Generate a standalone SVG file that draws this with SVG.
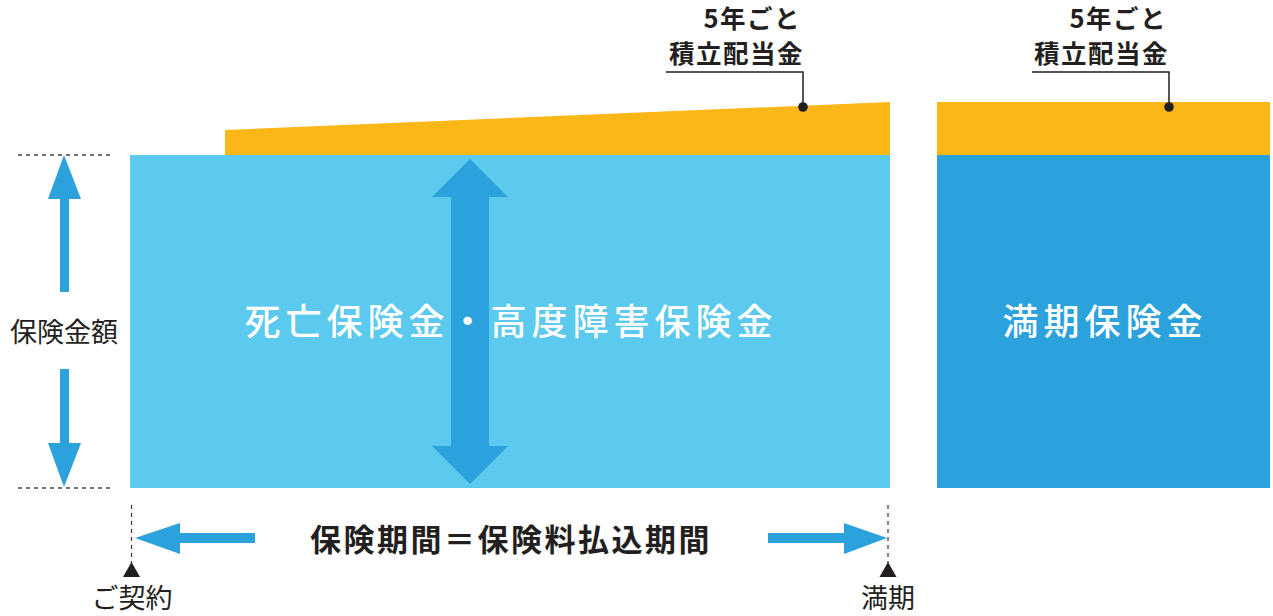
<svg xmlns="http://www.w3.org/2000/svg" width="1273" height="616" viewBox="0 0 1273 616">
<style>
text{font-family:"Noto Sans CJK JP","Noto Sans CJK SC",sans-serif;}
.lbl{fill:#231f20;font-size:27px;}
.dk{fill:#231f20;font-size:25.5px;font-weight:600;}
.main{fill:#ffffff;font-size:36px;font-weight:500;letter-spacing:5px;}
.dash{stroke:#444;stroke-width:1.3;stroke-dasharray:4 4;fill:none;}
.lead{stroke:#231f20;stroke-width:1.5;fill:none;}
.arr{fill:#2ca2dc;}
</style>
<rect width="1273" height="616" fill="#ffffff"/>
<g id="dividend-left">
<polygon points="225,130 890,102 890,156 225,156" fill="#fbb717"/>
</g>
<g id="dividend-right">
<rect x="937" y="102" width="333" height="54" fill="#fbb717"/>
</g>
<g id="death-benefit">
<rect x="130" y="155" width="760" height="333" fill="#5bcaee"/>
<polygon class="arr" points="470,159 508,197 489,197 489,446 508,446 470,484 432,446 451,446 451,197 432,197"/>
<text class="main" x="511" y="335" text-anchor="middle">死亡保険金・高度障害保険金</text>
</g>
<g id="maturity-benefit">
<rect x="937" y="155" width="333" height="333" fill="#2ca2dc"/>
<text class="main" x="1105" y="335" text-anchor="middle">満期保険金</text>
</g>
<g id="label-dividend-left">
<text class="dk" x="801" y="28" text-anchor="end" letter-spacing="1.5">5年ごと</text>
<text class="dk" x="804" y="63" text-anchor="end" letter-spacing="1.5">積立配当金</text>
</g>
<g id="label-dividend-right">
<text class="dk" x="1167" y="28" text-anchor="end" letter-spacing="1.5">5年ごと</text>
<text class="dk" x="1169" y="63" text-anchor="end" letter-spacing="1.5">積立配当金</text>
</g>
<g id="label-amount">
<text class="lbl" x="64" y="342" text-anchor="middle">保険金額</text>
</g>
<g id="label-period">
<text x="511" y="551" text-anchor="middle" font-size="31" font-weight="700" fill="#231f20" letter-spacing="2.5">保険期間＝保険料払込期間</text>
</g>
<g id="label-contract">
<text class="lbl" x="132" y="608" text-anchor="middle">ご契約</text>
</g>
<g id="label-maturity">
<text class="lbl" x="888" y="608" text-anchor="middle">満期</text>
</g>
<g id="connectors">
<line class="dash" x1="18" y1="155" x2="113" y2="155"/>
<line class="dash" x1="18" y1="488" x2="113" y2="488"/>
<polygon class="arr" points="64,155 81,199 69,199 69,292 60,292 60,199 48,199"/>
<polygon class="arr" points="64,487 81,443 69,443 69,369 60,369 60,443 48,443"/>
<line class="dash" x1="131.5" y1="505" x2="131.5" y2="563"/>
<line class="dash" x1="888" y1="505" x2="888" y2="563"/>
<polygon points="131.5,562 123,577 140,577" fill="#231f20"/>
<polygon points="888,562 879.5,577 896.5,577" fill="#231f20"/>
<polygon class="arr" points="135,538 180,523 180,533 255,533 255,543 180,543 180,554"/>
<polygon class="arr" points="887,538 844,523 844,533 768,533 768,543 844,543 844,554"/>
<polyline class="lead" points="666,72 803,72 803,107"/>
<circle cx="803" cy="107" r="4.8" fill="#231f20"/>
<polyline class="lead" points="1032,72 1169,72 1169,107"/>
<circle cx="1169" cy="107" r="4.8" fill="#231f20"/>
</g>
</svg>
